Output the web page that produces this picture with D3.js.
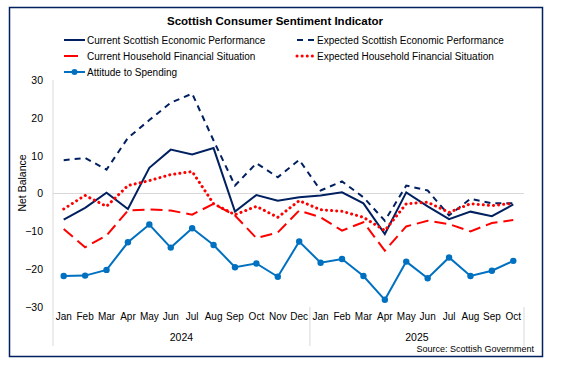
<!DOCTYPE html>
<html>
<head>
<meta charset="utf-8">
<script src="https://cdn.jsdelivr.net/npm/d3@7"></script>
<style>
  body { margin: 0; background: #fff; }
  svg text { font-family: "Liberation Sans", Arial, sans-serif; fill: #000; }
</style>
</head>
<body>
<svg id="chart" width="563" height="366"></svg>
<script>
// months on the x axis, two years
var months = ["Jan","Feb","Mar","Apr","May","Jun","Jul","Aug","Sep","Oct","Nov","Dec",
              "Jan","Feb","Mar","Apr","May","Jun","Jul","Aug","Sep","Oct"];
var years = [{label: "2024", from: 0, to: 12}, {label: "2025", from: 12, to: 22}];
var yTicks = [-30, -20, -10, 0, 10, 20, 30];

// series values (net balance)
var currentEcon   = [-6.9,-3.8,0.2,-4.1,6.8,11.6,10.3,12.0,-4.8,-0.4,-1.9,-1.0,-0.5,0.3,-2.6,-10.7,0.3,-3.4,-6.8,-4.8,-6.0,-2.9];
var expectedEcon  = [8.8,9.4,6.3,14.7,19.4,24.0,26.4,14.0,2.1,8.0,4.3,8.9,0.8,3.2,-1.0,-7.2,2.1,0.8,-5.8,-1.4,-2.6,-2.6];
var currentHouse  = [-9.4,-14.2,-11.1,-4.5,-4.2,-4.5,-5.6,-2.7,-5.8,-11.8,-10.3,-4.5,-6.3,-9.8,-7.6,-15.1,-8.7,-7.2,-8.1,-10.0,-7.8,-7.0];
var expectedHouse = [-4.1,-0.5,-3.4,2.1,3.4,5.0,5.8,-2.7,-5.6,-3.4,-6.3,-1.9,-4.3,-4.7,-6.3,-9.8,-2.7,-2.3,-5.0,-2.7,-3.2,-2.6];
var spending      = [-21.8,-21.7,-20.2,-12.9,-8.2,-14.3,-9.2,-13.6,-19.5,-18.5,-22.0,-12.7,-18.3,-17.3,-21.8,-28.1,-18.0,-22.4,-16.9,-21.8,-20.4,-17.8];

var series = [
  {name: "Current Scottish Economic Performance", values: currentEcon, color: "#002060", dash: null, marker: false},
  {name: "Expected Scottish Economic Performance", values: expectedEcon, color: "#002060", dash: "6,5", marker: false},
  {name: "Current Household Financial Situation", values: currentHouse, color: "#ff0000", dash: "12,6", legendDash: "14,10", marker: false},
  {name: "Expected Household Financial Situation", values: expectedHouse, color: "#ff0000", dash: "0.1,5", marker: false, dots: true},
  {name: "Attitude to Spending", values: spending, color: "#0070c0", dash: null, marker: true}
];

var svg = d3.select("#chart");

// outer frame
svg.append("rect")
  .attr("x", 9.5).attr("y", 7.5).attr("width", 533).attr("height", 349)
  .attr("fill", "none").attr("stroke", "#002060").attr("stroke-width", 1.5);

svg.append("text")
  .attr("x", 275).attr("y", 25)
  .attr("text-anchor", "middle")
  .style("font-size", "11.5px").style("font-weight", "bold")
  .text("Scottish Consumer Sentiment Indicator");

var x = d3.scaleBand().domain(d3.range(months.length)).range([53, 524]);
var y = d3.scaleLinear().domain([-30, 30]).range([307, 80]);
var cx = function(i) { return x(i) + x.bandwidth() / 2; };

// y axis
var yAxis = d3.axisLeft(y).tickValues(yTicks).tickSize(0).tickPadding(10).tickFormat(d3.format("d"));
var gy = svg.append("g").attr("transform", "translate(53,0)").call(yAxis);
gy.select(".domain").remove();
gy.selectAll("text").style("font-size", "10.5px").style("font-family", "Liberation Sans, Arial, sans-serif");

svg.append("line")
  .attr("x1", 53).attr("x2", 53).attr("y1", 80).attr("y2", 346)
  .attr("stroke", "#d9d9d9").attr("stroke-width", 1);

// zero line
svg.append("line")
  .attr("x1", 53).attr("x2", 524).attr("y1", y(0)).attr("y2", y(0))
  .attr("stroke", "#d9d9d9").attr("stroke-width", 1);

svg.append("text")
  .attr("transform", "translate(26,183) rotate(-90)")
  .attr("text-anchor", "middle")
  .style("font-size", "10.5px")
  .text("Net Balance");

// x axis: month labels
var xAxis = d3.axisBottom(x).tickSize(0).tickPadding(6).tickFormat(function(i) { return months[i]; });
var gx = svg.append("g").attr("transform", "translate(0,307)").call(xAxis);
gx.select(".domain").remove();
gx.selectAll("text").style("font-size", "10px").style("font-family", "Liberation Sans, Arial, sans-serif");

// year groups
years.forEach(function(yr) {
  var x0 = x(yr.from), x1 = yr.to < months.length ? x(yr.to) : x.range()[1];
  svg.append("line")
    .attr("x1", x1).attr("x2", x1).attr("y1", 307).attr("y2", 346)
    .attr("stroke", "#d9d9d9");
  svg.append("text")
    .attr("x", (x0 + x1) / 2).attr("y", 341)
    .attr("text-anchor", "middle")
    .style("font-size", "10.5px")
    .text(yr.label);
});

svg.append("text")
  .attr("x", 534).attr("y", 352)
  .attr("text-anchor", "end")
  .style("font-size", "9px")
  .text("Source: Scottish Government");

// lines
var line = d3.line().x(function(d, i) { return cx(i); }).y(function(d) { return y(d); });

series.forEach(function(s) {
  svg.append("path")
    .datum(s.values)
    .attr("d", line)
    .attr("fill", "none")
    .attr("stroke", s.color)
    .attr("stroke-width", s.dots ? 3 : 2)
    .attr("stroke-linecap", s.dots ? "round" : "butt")
    .attr("stroke-dasharray", s.dash);
  if (s.marker) {
    svg.selectAll(null).data(s.values).enter().append("circle")
      .attr("cx", function(d, i) { return cx(i); })
      .attr("cy", function(d) { return y(d); })
      .attr("r", 3.2)
      .attr("fill", s.color);
  }
});

// legend
var legendPos = [
  {x: 64, y: 40, len: 21}, {x: 297, y: 40, len: 18},
  {x: 64, y: 56, len: 21}, {x: 297, y: 56, len: 18},
  {x: 64, y: 72, len: 21}
];
series.forEach(function(s, i) {
  var p = legendPos[i];
  var g = svg.append("g").attr("transform", "translate(" + p.x + "," + p.y + ")");
  g.append("line")
    .attr("x1", 0).attr("x2", p.len).attr("y1", 0).attr("y2", 0)
    .attr("stroke", s.color)
    .attr("stroke-width", s.dots ? 3 : 2)
    .attr("stroke-linecap", s.dots ? "round" : "butt")
    .attr("stroke-dasharray", s.legendDash || s.dash);
  if (s.marker) {
    g.append("circle").attr("cx", p.len / 2).attr("cy", 0).attr("r", 3).attr("fill", s.color);
  }
  g.append("text")
    .attr("x", p.len + 2).attr("y", 4)
    .style("font-size", "10px")
    .text(s.name);
});
</script>
</body>
</html>
